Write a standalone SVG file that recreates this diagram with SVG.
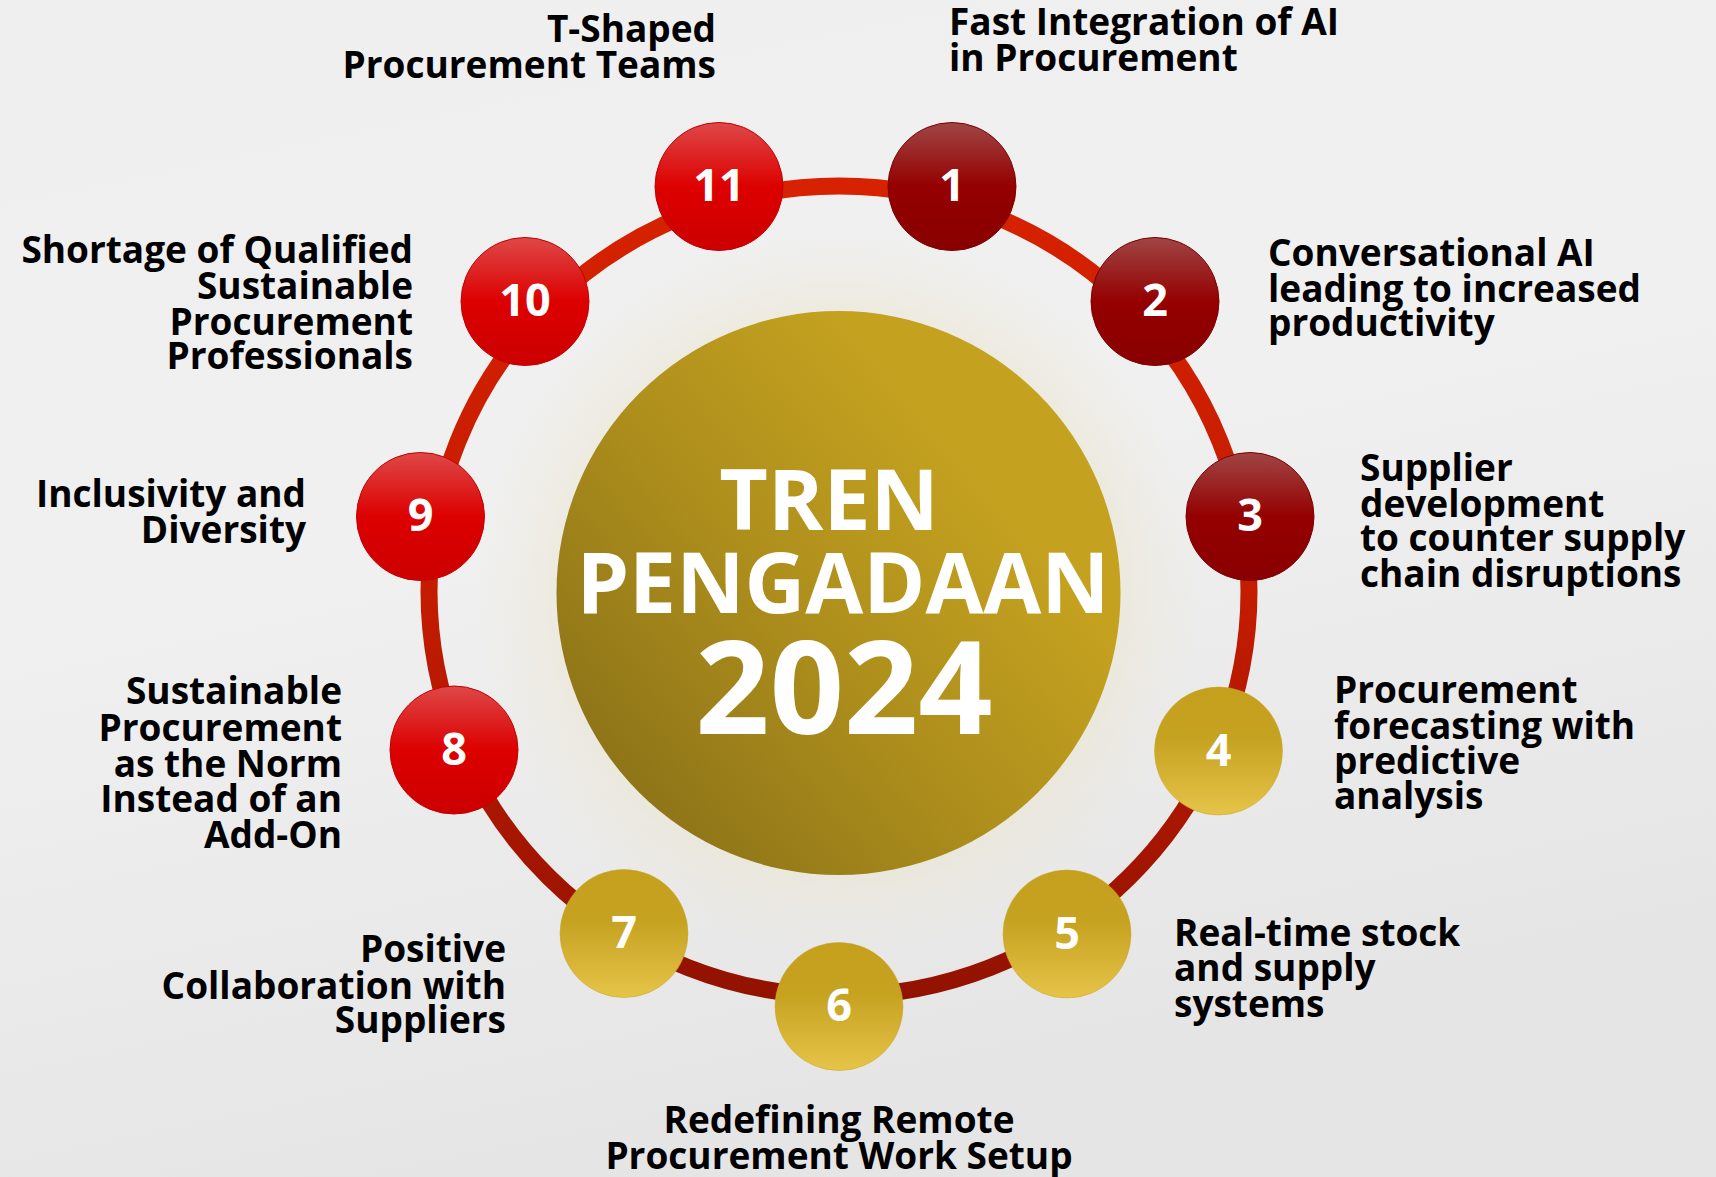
<svg xmlns="http://www.w3.org/2000/svg" width="1716" height="1177" viewBox="0 0 1716 1177">
<style>
.lbl{font-family:"Open Sans","Noto Sans","DejaVu Sans",sans-serif;font-weight:700;font-size:37px;fill:#000}
.num{font-family:"Open Sans","Noto Sans","DejaVu Sans",sans-serif;font-weight:700;font-size:45px;fill:#fff;text-anchor:middle}
.title{font-family:"Open Sans","Noto Sans","DejaVu Sans",sans-serif;font-weight:700;fill:#fff;text-anchor:middle}
.end{text-anchor:end}
.mid{text-anchor:middle}
.dr{fill:url(#gDark);stroke:#7e0000;stroke-width:1}
.br{fill:url(#gRed);stroke:#c40000;stroke-width:1}
.gd{fill:url(#gGold);stroke:#c9a52a;stroke-width:0.5}
</style>
<defs>
<linearGradient id="bg" x1="0" y1="0" x2="0.3" y2="1">
<stop offset="0" stop-color="#efefef"/>
<stop offset="0.5" stop-color="#f0f0f0"/>
<stop offset="1" stop-color="#e5e5e5"/>
</linearGradient>
<radialGradient id="halo" cx="0.5" cy="0.5" r="0.5">
<stop offset="0.6" stop-color="#ebe6d2" stop-opacity="1"/>
<stop offset="1" stop-color="#ebe6d2" stop-opacity="0"/>
</radialGradient>
<linearGradient id="gCenter" x1="0.1" y1="0.85" x2="0.75" y2="0.3">
<stop offset="0" stop-color="#8d7318"/>
<stop offset="0.55" stop-color="#ae8f1c"/>
<stop offset="1" stop-color="#c4a11f"/>
</linearGradient>
<linearGradient id="gRing" x1="0" y1="0" x2="0" y2="1">
<stop offset="0" stop-color="#d62200"/>
<stop offset="0.5" stop-color="#c41c00"/>
<stop offset="1" stop-color="#921200"/>
</linearGradient>
<linearGradient id="gDark" x1="0" y1="0" x2="0" y2="1">
<stop offset="0" stop-color="#a04545"/>
<stop offset="0.5" stop-color="#950000"/>
<stop offset="1" stop-color="#890000"/>
</linearGradient>
<linearGradient id="gRed" x1="0" y1="0" x2="0" y2="1">
<stop offset="0" stop-color="#de4848"/>
<stop offset="0.5" stop-color="#dd0000"/>
<stop offset="1" stop-color="#cc0000"/>
</linearGradient>
<linearGradient id="gGold" x1="0" y1="0" x2="0" y2="1">
<stop offset="0" stop-color="#c4a01d"/>
<stop offset="0.4" stop-color="#c6a221"/>
<stop offset="1" stop-color="#e6c448"/>
</linearGradient>
</defs>
<rect width="1716" height="1177" fill="url(#bg)"/>
<circle cx="839" cy="593" r="360" fill="url(#halo)"/>

<g id="connectors">
<ellipse cx="839" cy="591" rx="410" ry="405" fill="none" stroke="url(#gRing)" stroke-width="17"/>
</g>

<g id="center">
<circle cx="838.5" cy="593" r="282" fill="url(#gCenter)"/>
<text class="title" x="829" y="530" font-size="84">TREN</text>
<text class="title" x="843" y="613" font-size="84">PENGADAAN</text>
<text class="title" x="844" y="734" font-size="130">2024</text>
</g>

<g id="node1">
<circle class="dr" cx="952" cy="186.5" r="64"/>
<text class="num" x="952" y="201">1</text>
<text class="lbl" x="949" y="35">Fast Integration of AI</text>
<text class="lbl" x="949" y="71">in Procurement</text>
</g>
<g id="node2">
<circle class="dr" cx="1155" cy="301.5" r="64"/>
<text class="num" x="1155" y="316">2</text>
<text class="lbl" x="1268" y="266">Conversational AI</text>
<text class="lbl" x="1268" y="302">leading to increased</text>
<text class="lbl" x="1268" y="336">productivity</text>
</g>
<g id="node3">
<circle class="dr" cx="1250" cy="516.5" r="64"/>
<text class="num" x="1250" y="531">3</text>
<text class="lbl" x="1360" y="481">Supplier</text>
<text class="lbl" x="1360" y="517">development</text>
<text class="lbl" x="1360" y="551">to counter supply</text>
<text class="lbl" x="1360" y="587">chain disruptions</text>
</g>
<g id="node4">
<circle class="gd" cx="1218.5" cy="751" r="64"/>
<text class="num" x="1218.5" y="766">4</text>
<text class="lbl" x="1334" y="703">Procurement</text>
<text class="lbl" x="1334" y="739">forecasting with</text>
<text class="lbl" x="1334" y="774">predictive</text>
<text class="lbl" x="1334" y="809">analysis</text>
</g>
<g id="node5">
<circle class="gd" cx="1067" cy="934" r="64"/>
<text class="num" x="1067" y="949">5</text>
<text class="lbl" x="1174" y="946">Real-time stock</text>
<text class="lbl" x="1174" y="981">and supply</text>
<text class="lbl" x="1174" y="1017">systems</text>
</g>
<g id="node6">
<circle class="gd" cx="839" cy="1006.5" r="64"/>
<text class="num" x="839" y="1021">6</text>
<text class="lbl mid" x="839" y="1133">Redefining Remote</text>
<text class="lbl mid" x="839" y="1169">Procurement Work Setup</text>
</g>
<g id="node7">
<circle class="gd" cx="624" cy="933.5" r="64"/>
<text class="num" x="624" y="948">7</text>
<text class="lbl end" x="506" y="962">Positive</text>
<text class="lbl end" x="506" y="999">Collaboration with</text>
<text class="lbl end" x="506" y="1033">Suppliers</text>
</g>
<g id="node8">
<circle class="br" cx="454" cy="750" r="64"/>
<text class="num" x="454" y="765">8</text>
<text class="lbl end" x="342" y="704">Sustainable</text>
<text class="lbl end" x="342" y="741">Procurement</text>
<text class="lbl end" x="342" y="777">as the Norm</text>
<text class="lbl end" x="342" y="812">Instead of an</text>
<text class="lbl end" x="342" y="848">Add-On</text>
</g>
<g id="node9">
<circle class="br" cx="420.5" cy="516.5" r="64"/>
<text class="num" x="420.5" y="531">9</text>
<text class="lbl end" x="306" y="507">Inclusivity and</text>
<text class="lbl end" x="306" y="543">Diversity</text>
</g>
<g id="node10">
<circle class="br" cx="525" cy="301.5" r="64"/>
<text class="num" x="525" y="316">10</text>
<text class="lbl end" x="413" y="263">Shortage of Qualified</text>
<text class="lbl end" x="413" y="299">Sustainable</text>
<text class="lbl end" x="413" y="335">Procurement</text>
<text class="lbl end" x="413" y="369">Professionals</text>
</g>
<g id="node11">
<circle class="br" cx="719" cy="186.5" r="64"/>
<text class="num" x="719" y="201">11</text>
<text class="lbl end" x="716" y="42">T-Shaped</text>
<text class="lbl end" x="716" y="78">Procurement Teams</text>
</g>
</svg>
